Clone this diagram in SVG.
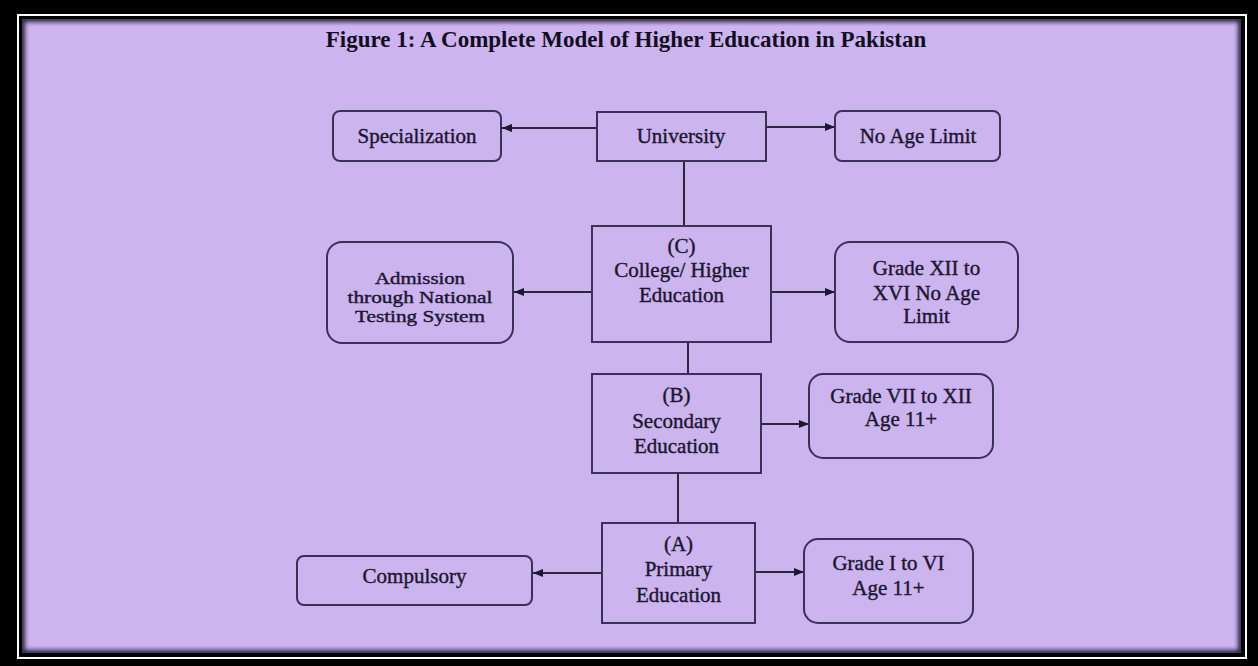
<svg xmlns="http://www.w3.org/2000/svg" width="1258" height="666" viewBox="0 0 1258 666">
<style>
.box{fill:none;stroke:#3b3156;stroke-width:2}
.t{font-family:"Liberation Serif","Times New Roman",serif;font-size:21px;fill:#1c1630;stroke:#1c1630;stroke-width:0.4;text-anchor:middle}
.s{font-size:17px}
.title{font-family:"Liberation Serif","Times New Roman",serif;font-size:23px;font-weight:bold;fill:#120e1e;text-anchor:middle}
.c{stroke:#2e2640;stroke-width:2;fill:none}
</style>
<defs>
<marker id="ah" markerUnits="userSpaceOnUse" markerWidth="10" markerHeight="8" refX="10" refY="4" orient="auto" viewBox="0 0 10 8">
<path d="M0,0 L10,4 L0,8 z" fill="#1c1630"/>
</marker>
<clipPath id="inner"><rect x="22" y="19" width="1219" height="634"/></clipPath>
<filter id="blur" x="-5%" y="-5%" width="110%" height="110%"><feGaussianBlur stdDeviation="2"/></filter>
</defs>
<g id="frame">
<rect x="0" y="0" width="1258" height="666" fill="#000"/>
<rect x="18" y="15" width="1228" height="643" fill="none" stroke="#fff" stroke-width="2"/>
<rect x="22" y="19" width="1219" height="634" fill="#ccb4ef"/>
<g clip-path="url(#inner)">
<rect x="22" y="19" width="1219" height="634" fill="none" stroke="#2a2040" stroke-width="6" filter="url(#blur)"/>
</g>
</g>
<text class="title" x="626" y="47">Figure 1: A Complete Model of Higher Education in Pakistan</text>
<g id="connectors">
<path class="c" d="M597,128 L502,128" marker-end="url(#ah)"/>
<path class="c" d="M766,127 L835,127" marker-end="url(#ah)"/>
<path class="c" d="M684,161 L684,226"/>
<path class="c" d="M592,292 L514,292" marker-end="url(#ah)"/>
<path class="c" d="M771,292 L835,292" marker-end="url(#ah)"/>
<path class="c" d="M688,342 L688,374"/>
<path class="c" d="M761,424 L809,424" marker-end="url(#ah)"/>
<path class="c" d="M678,473 L678,523"/>
<path class="c" d="M602,573 L533,573" marker-end="url(#ah)"/>
<path class="c" d="M755,572 L804,572" marker-end="url(#ah)"/>
</g>
<g id="university">
<rect class="box" x="597" y="112" width="169" height="49"/>
<text class="t" x="681" y="143">University</text>
</g>
<g id="specialization">
<rect class="box" x="333" y="111" width="168" height="50" rx="7"/>
<text class="t" x="417" y="143">Specialization</text>
</g>
<g id="no-age-limit">
<rect class="box" x="835" y="111" width="165" height="50" rx="7"/>
<text class="t" x="918" y="143">No Age Limit</text>
</g>
<g id="college">
<rect class="box" x="592" y="226" width="179" height="116"/>
<text class="t" x="681.5" y="253">(C)</text>
<text class="t" x="681.5" y="277">College/ Higher</text>
<text class="t" x="681.5" y="302">Education</text>
</g>
<g id="admission">
<rect class="box" x="327" y="242" width="186" height="101" rx="15"/>
<text class="t s" x="420" y="284" textLength="90" lengthAdjust="spacingAndGlyphs">Admission</text>
<text class="t s" x="420" y="303" textLength="145" lengthAdjust="spacingAndGlyphs">through National</text>
<text class="t s" x="420" y="322" textLength="130" lengthAdjust="spacingAndGlyphs">Testing System</text>
</g>
<g id="grade-xii-xvi">
<rect class="box" x="835" y="242" width="183" height="100" rx="15"/>
<text class="t" x="926.5" y="275">Grade XII to</text>
<text class="t" x="926.5" y="300">XVI No Age</text>
<text class="t" x="926.5" y="323">Limit</text>
</g>
<g id="secondary">
<rect class="box" x="592" y="374" width="169" height="99"/>
<text class="t" x="676.5" y="402">(B)</text>
<text class="t" x="676.5" y="428">Secondary</text>
<text class="t" x="676.5" y="453">Education</text>
</g>
<g id="grade-vii-xii">
<rect class="box" x="809" y="374" width="184" height="84" rx="14"/>
<text class="t" x="901" y="403">Grade VII to XII</text>
<text class="t" x="901" y="426">Age 11+</text>
</g>
<g id="primary">
<rect class="box" x="602" y="523" width="153" height="100"/>
<text class="t" x="678.5" y="551">(A)</text>
<text class="t" x="678.5" y="576">Primary</text>
<text class="t" x="678.5" y="602">Education</text>
</g>
<g id="compulsory">
<rect class="box" x="297" y="556" width="235" height="49" rx="7"/>
<text class="t" x="414.5" y="583">Compulsory</text>
</g>
<g id="grade-i-vi">
<rect class="box" x="804" y="539" width="169" height="84" rx="14"/>
<text class="t" x="888.5" y="570">Grade I to VI</text>
<text class="t" x="888.5" y="595">Age 11+</text>
</g>
</svg>
